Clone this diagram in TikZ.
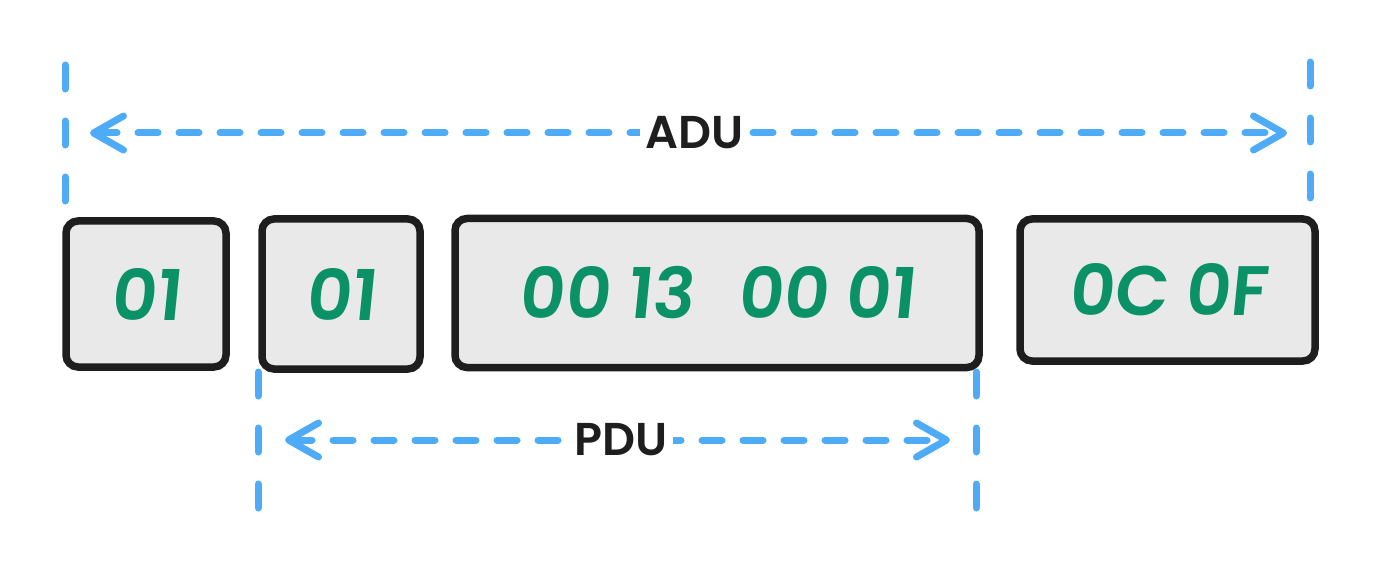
\documentclass[tikz,border=0pt]{standalone}
\usepackage{fontspec}
\setmainfont{Poppins}
\newfontfamily\handdig[UprightFont={* SemiBold},FakeSlant=0.1]{Poppins}
\newfontfamily\handlbl[UprightFont={* SemiBold}]{Poppins}
\usetikzlibrary{arrows.meta}
\definecolor{boxfill}{HTML}{E9E9E9}
\definecolor{ink}{HTML}{1E1E1E}
\definecolor{grn}{HTML}{0A9166}
\definecolor{blu}{HTML}{4DABF7}
\begin{document}
\begin{tikzpicture}[x=1pt,y=-1pt,
  byte/.style={draw=ink, line width=7.5pt, fill=boxfill, rounded corners=12pt,
    inner sep=0pt, text=grn, font=\handdig\fontsize{70}{72}\selectfont},
  guide/.style={draw=blu, line width=7pt, line cap=round, dash pattern=on 24pt off 32pt},
  span/.style={draw=blu, line width=7pt, line cap=round, dash pattern=on 20pt off 21pt,
    {Straight Barb[length=30pt,width=34pt,line cap=round,line join=round]}-{Straight Barb[length=30pt,width=34pt,line cap=round,line join=round]}},
  lbl/.style={fill=white, text=ink, inner xsep=6pt, inner ysep=2pt, font=\handlbl\fontsize{46}{48}\selectfont}]
\useasboundingbox (0,0) rectangle (1380,577);

% byte boxes
\node[byte, minimum width=160pt, minimum height=146pt] (b1) at (146,294) {01};
\node[byte, minimum width=158pt, minimum height=150pt] (b2) at (341,294) {01};
\node[byte, minimum width=524pt, minimum height=149pt] (b3) at (717,293) {00 13\hspace{44pt}00 01};
\node[byte, minimum width=295pt, minimum height=142pt] (b4) at (1167.5,290) {0C 0F};

% ADU guides
\coordinate (aLt) at (65,65);
\coordinate (aLb) at (65,207);
\coordinate (aRt) at (1310,62);
\coordinate (aRb) at (1310,207);
\draw[guide] (aLt) -- (aLb);
\draw[guide] (aRt) -- (aRb);
\coordinate (aA) at (90,133);
\coordinate (aB) at (1287,133);
\draw[span] (aA) -- (aB) node[lbl, pos=0.505] (adu) {ADU};

% PDU guides
\coordinate (pLt) at (258,372);
\coordinate (pLb) at (258,517);
\coordinate (pRt) at (976,372);
\coordinate (pRb) at (976,515);
\draw[guide] (pLt) -- (pLb);
\draw[guide] (pRt) -- (pRb);
\coordinate (pA) at (285,440);
\coordinate (pB) at (950,440);
\draw[span] (pA) -- (pB) node[lbl, pos=0.505] (pdu) {PDU};
\end{tikzpicture}
\end{document}
